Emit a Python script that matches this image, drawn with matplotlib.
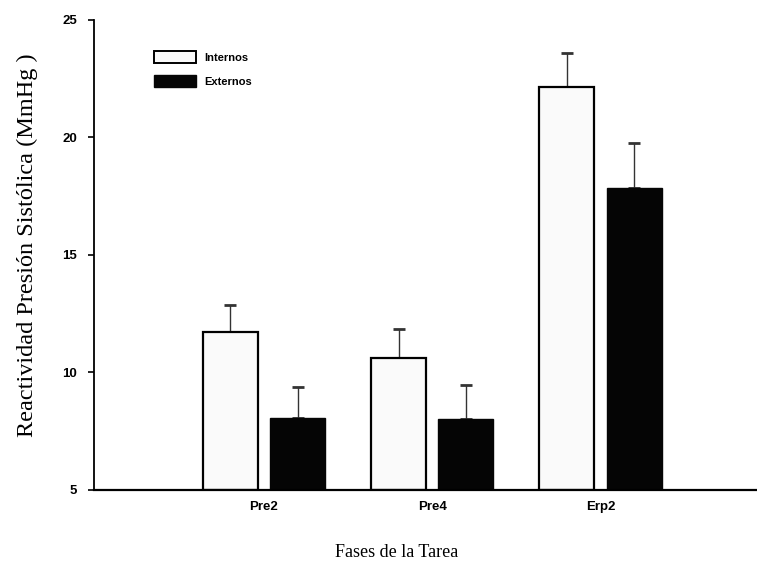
import numpy as np
import matplotlib
matplotlib.use('Agg')
import matplotlib.pyplot as plt
from matplotlib.patches import Patch

# phases of the task and the two groups
fases = ['Pre2', 'Pre4', 'Erp2']
internos = [11.72, 10.60, 22.15]
internos_err = [1.15, 1.25, 1.45]
externos = [8.06, 8.02, 17.85]
externos_err = [1.32, 1.45, 1.92]

fig = plt.figure(figsize=(7.57, 5.67), dpi=100)
fig.patch.set_facecolor('#FFFFFF')
ax = fig.add_axes([0.124, 0.136, 0.876, 0.829])

x = np.arange(len(fases))
w = 0.326
off = 0.2

ax.bar(x - off, [v - 5 for v in internos], bottom=5, width=w, color='#FAFAFA',
       edgecolor='#000000', linewidth=1.6, zorder=2)
ax.bar(x + off, [v - 5 for v in externos], bottom=5, width=w, color='#050505',
       edgecolor='#050505', linewidth=1.0, zorder=2)

ax.errorbar(x - off, internos, yerr=[np.zeros(3), internos_err], fmt='none',
            ecolor='#333333', elinewidth=1.0, capsize=4.5, capthick=2, zorder=1)
ax.errorbar(x + off, externos, yerr=[np.zeros(3), externos_err], fmt='none',
            ecolor='#333333', elinewidth=1.0, capsize=4.5, capthick=2, zorder=1)

ax.set_xlim(-1.01, 2.93)
ax.set_ylim(5, 25)
ax.set_yticks([5, 10, 15, 20, 25])
ax.set_xticks(x)
ax.set_xticklabels(fases)

for s in ['top', 'right']:
    ax.spines[s].set_visible(False)
ax.spines['left'].set_linewidth(1.3)
ax.spines['bottom'].set_linewidth(1.6)

ax.tick_params(axis='x', length=0, pad=8)
ax.tick_params(axis='y', length=4, width=1.2, pad=8, direction='out')
for lab in ax.get_xticklabels() + ax.get_yticklabels():
    lab.set_fontfamily('Liberation Sans')
    lab.set_fontweight('bold')
    lab.set_fontsize(9.5)

ax.set_xlabel('Fases de la Tarea', family='Liberation Serif', fontsize=13)
ax.xaxis.set_label_coords(0.457, -0.115)
ax.set_ylabel('Reactividad Presión Sistólica (MmHg )', family='Liberation Serif', fontsize=17.5)
ax.yaxis.set_label_coords(-0.085, 0.52)

handles = [Patch(facecolor='#FAFAFA', edgecolor='#000000', linewidth=1.4, label='Internos'),
           Patch(facecolor='#050505', edgecolor='#050505', label='Externos')]
ax.legend(handles=handles, loc='upper left', bbox_to_anchor=(0.075, 0.955), frameon=False,
          handlelength=3.8, handleheight=1.3, labelspacing=1.05, handletextpad=0.8,
          prop={'family': 'Liberation Sans', 'weight': 'bold', 'size': 8})

fig.savefig('out.png', dpi=100)
